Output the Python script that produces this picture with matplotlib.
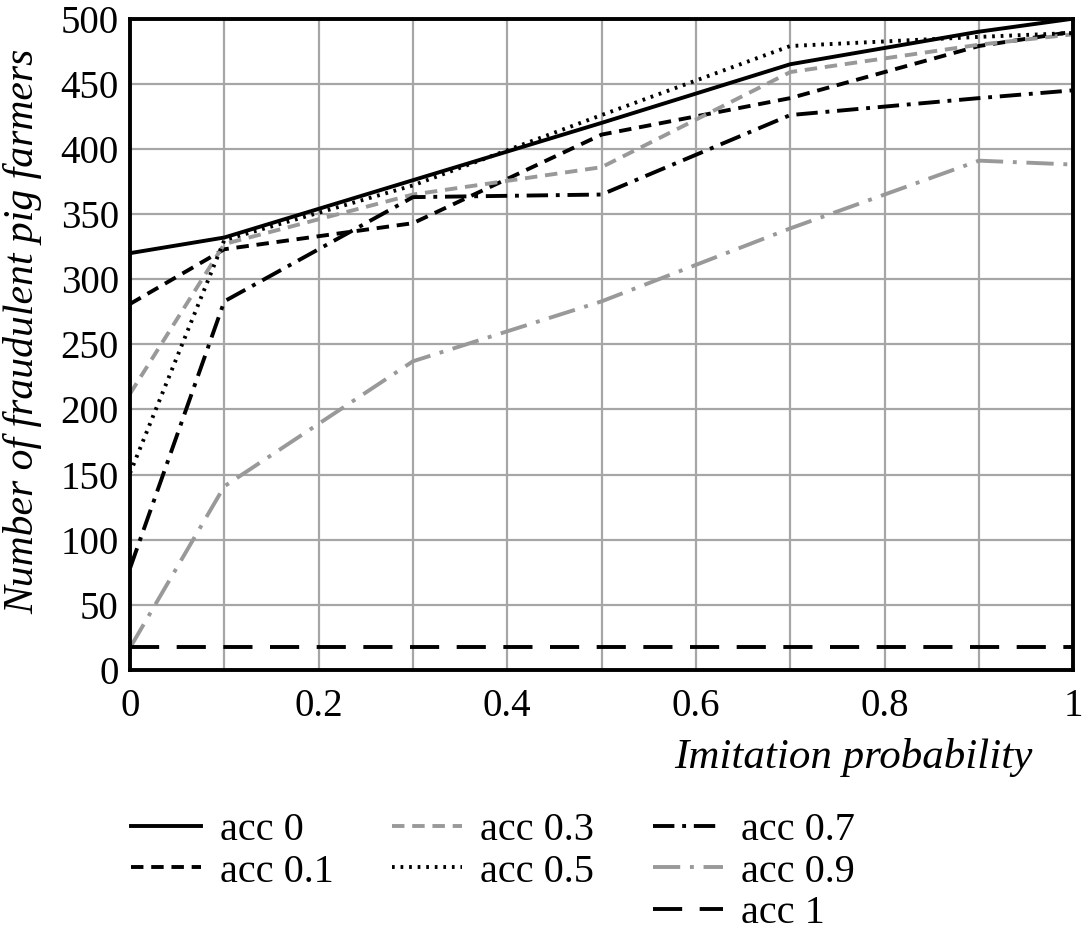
import matplotlib.pyplot as plt
from matplotlib.lines import Line2D
from matplotlib.ticker import MultipleLocator

# imitation probability sampled in the experiments
x = [0, 0.1, 0.3, 0.5, 0.7, 0.9, 1]

acc_0 = [320, 332, 376, 420, 465, 490, 500]
acc_01 = [281, 323, 343, 411, 439, 479, 490]
acc_03 = [212, 327, 365, 386, 459, 480, 488]
acc_05 = [151, 330, 372, 426, 479, 486, 489]
acc_07 = [78, 283, 363, 365, 426, 439, 445]
acc_09 = [17, 141, 237, 283, 339, 391, 388]
acc_1 = [18, 18, 18, 18, 18, 18, 18]

labels = ["acc 0", "acc 0.1", "acc 0.3", "acc 0.5", "acc 0.7", "acc 0.9", "acc 1"]

plt.rcParams["font.family"] = ["Liberation Serif", "DejaVu Serif"]
plt.rcParams["font.size"] = 28

grey = "#999999"
lw = 2.8

fig = plt.figure(figsize=(10.83, 9.42), dpi=100)
ax = fig.add_axes([0.12, 0.2887, 0.871, 0.6915])

h0, = ax.plot(x, acc_0, color="black", lw=lw, label=labels[0])
h1, = ax.plot(x, acc_01, color="black", lw=lw, dashes=(3.2, 2), label=labels[1])
h2, = ax.plot(x, acc_03, color=grey, lw=lw, dashes=(3.2, 2), label=labels[2])
h3, = ax.plot(x, acc_05, color="black", lw=lw, dashes=(0.7, 1.5), label=labels[3])
h4, = ax.plot(x, acc_07, color="black", lw=lw, dashes=(5.5, 2, 1, 2), label=labels[4])
h5, = ax.plot(x, acc_09, color=grey, lw=lw, dashes=(7, 2.5, 1, 2.5), label=labels[5])
h6, = ax.plot(x, acc_1, color="black", lw=lw, dashes=(7.5, 4.5), label=labels[6])

ax.set_xlim(0, 1)
ax.set_ylim(0, 500)
ax.set_xticks([0, 0.2, 0.4, 0.6, 0.8, 1])
ax.set_xticklabels(["0", "0.2", "0.4", "0.6", "0.8", "1"])
ax.xaxis.set_minor_locator(MultipleLocator(0.1))
ax.yaxis.set_major_locator(MultipleLocator(50))
ax.grid(True, which="both", axis="x", color="#a6a6a6", lw=1.6)
ax.grid(True, which="major", axis="y", color="#a6a6a6", lw=1.6)
ax.set_axisbelow(True)
ax.tick_params(which="both", length=0)
ax.tick_params(axis="x", pad=13)
ax.tick_params(axis="y", pad=8)
for s in ax.spines.values():
    s.set_linewidth(2.8)

ax.set_ylabel("Number of fraudulent pig farmers", style="italic", fontsize=30)
ax.yaxis.set_label_coords(-0.093, 0.52)
ax.set_xlabel("Imitation probability", style="italic", fontsize=31)
ax.xaxis.set_label_coords(0.957, -0.104)
ax.xaxis.label.set_horizontalalignment("right")

blank = Line2D([], [], color="none")
handles = [h0, h1, blank, h2, h3, blank, h4, h5, h6]
leg_labels = [labels[0], labels[1], "", labels[2], labels[3], "", labels[4], labels[5], labels[6]]
fig.legend(handles, leg_labels, ncol=3, frameon=False, loc="upper left",
           bbox_to_anchor=(0.106, 0.155), fontsize=29, handlelength=1.75,
           handletextpad=0.45, columnspacing=1.45, labelspacing=0.1,
           borderaxespad=0)

fig.savefig("out.png", dpi=100)
